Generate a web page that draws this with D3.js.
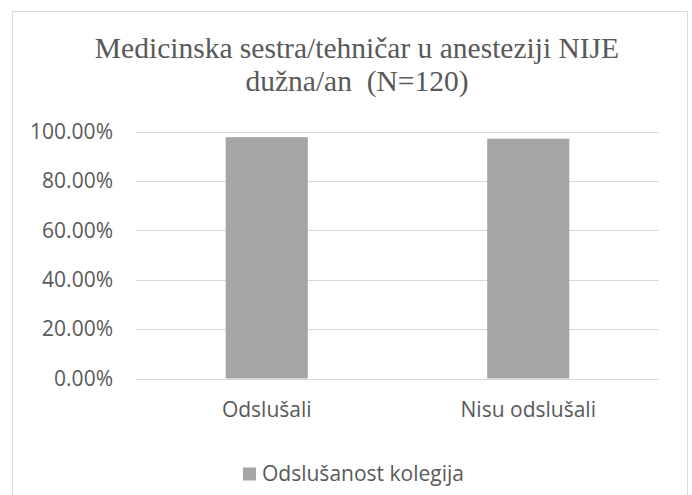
<!DOCTYPE html>
<html>
<head>
<meta charset="utf-8">
<script src="https://cdn.jsdelivr.net/npm/d3@7"></script>
<style>
  body { margin: 0; background: #fff; }
  svg { display: block; }
</style>
</head>
<body>
<svg width="692" height="495"></svg>
<script>
var categories = ["Odslušali", "Nisu odslušali"];
var values = [0.977, 0.971];
var seriesName = "Odslušanost kolegija";
var yTicks = [0, 0.2, 0.4, 0.6, 0.8, 1.0];
var titleLines = ["Medicinska sestra/tehničar u anesteziji NIJE", "dužna/an  (N=120)"];

var svg = d3.select("svg");
var textColor = "#595959";
var barColor = "#a5a5a5";
var sansFont = "'Open Sans', 'Noto Sans', sans-serif";

// chart frame
svg.append("rect")
  .attr("x", 12.5).attr("y", 11.5)
  .attr("width", 675).attr("height", 500)
  .attr("fill", "#fff")
  .attr("stroke", "#d9d9d9")
  .attr("stroke-width", 1);

// title
svg.append("g").selectAll("text")
  .data(titleLines)
  .enter().append("text")
    .attr("x", 357)
    .attr("y", function(d, i) { return 58 + i * 33; })
    .attr("text-anchor", "middle")
    .attr("font-family", "'Liberation Serif', 'Times New Roman', serif")
    .attr("font-size", 29.5)
    .attr("fill", textColor)
    .style("white-space", "pre")
    .text(function(d) { return d; });

var margin = {left: 136, right: 659, top: 131.5, bottom: 378.5};

var x = d3.scaleBand()
  .domain(categories)
  .range([margin.left, margin.right])
  .padding(0);

var y = d3.scaleLinear()
  .domain([0, 1])
  .range([margin.bottom, margin.top]);

// gridlines
svg.append("g").selectAll("line")
  .data(yTicks)
  .enter().append("line")
    .attr("x1", margin.left).attr("x2", margin.right)
    .attr("y1", function(d) { return Math.round(y(d)) + 0.5; })
    .attr("y2", function(d) { return Math.round(y(d)) + 0.5; })
    .attr("stroke", "#d9d9d9")
    .attr("stroke-width", 1);

// y labels
var fmt = function(d) { return (d * 100).toFixed(2) + "%"; };
svg.append("g").selectAll("text")
  .data(yTicks)
  .enter().append("text")
    .attr("x", 113)
    .attr("y", function(d) { return y(d); })
    .attr("dy", "0.35em")
    .attr("text-anchor", "end")
    .attr("font-family", sansFont)
    .attr("font-size", 21)
    .attr("fill", textColor)
    .text(fmt);

// bars
var barW = x.bandwidth() * 0.314;
svg.append("g").selectAll("rect")
  .data(values)
  .enter().append("rect")
    .attr("x", function(d, i) { return x(categories[i]) + (x.bandwidth() - barW) / 2; })
    .attr("y", function(d) { return y(d); })
    .attr("width", barW)
    .attr("height", function(d) { return y(0) - y(d); })
    .attr("fill", barColor);

// x labels
svg.append("g").selectAll("text")
  .data(categories)
  .enter().append("text")
    .attr("x", function(d) { return x(d) + x.bandwidth() / 2; })
    .attr("y", 417)
    .attr("text-anchor", "middle")
    .attr("font-family", sansFont)
    .attr("font-size", 21)
    .attr("fill", textColor)
    .text(function(d) { return d; });

// legend
var legend = svg.append("g").attr("transform", "translate(243,474)");
legend.append("rect")
  .attr("x", 0).attr("y", -6.5)
  .attr("width", 13).attr("height", 13)
  .attr("fill", barColor);
legend.append("text")
  .attr("x", 19).attr("y", 0)
  .attr("dy", "0.35em")
  .attr("font-family", sansFont)
  .attr("font-size", 21)
  .attr("fill", textColor)
  .text(seriesName);
</script>
</body>
</html>
